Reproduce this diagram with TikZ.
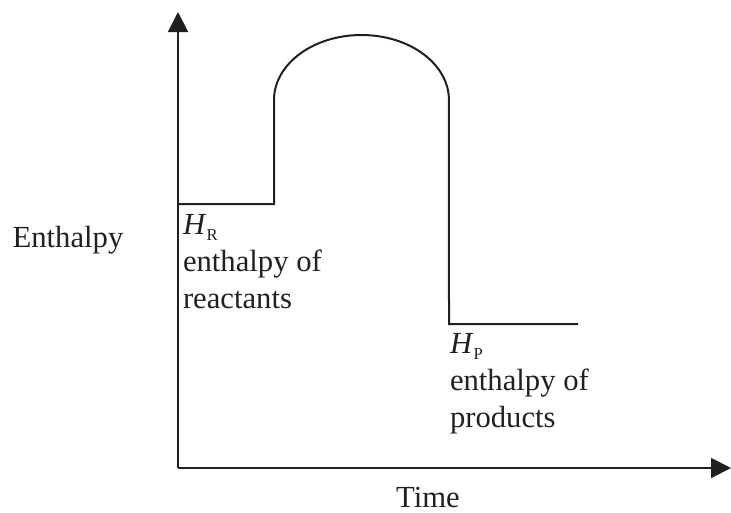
\documentclass[tikz,border=0pt]{standalone}
\usepackage{fontspec}
\setmainfont{Liberation Serif}
\usetikzlibrary{positioning,arrows.meta}
\definecolor{ink}{HTML}{231F20}
\newcommand{\lowsub}[1]{\raisebox{-4.5pt}{\fontsize{12.5}{12.5}\selectfont #1}}

\begin{document}
\begin{tikzpicture}[x=0.75pt, y=0.75pt, line width=1.5pt, draw=ink, text=ink,
	every node/.style={font=\fontsize{23}{27.75}\selectfont, inner sep=0pt},
	axis/.style={-{Triangle[length=15pt, width=15pt]}},
	level/.style={align=left, anchor=north west}]
	\useasboundingbox (0,0) rectangle (731,512);
	% axes
	\coordinate (O) at (178,44);
	\coordinate (Ytip) at (178,500);
	\coordinate (Xtip) at (731,44);
	\draw[axis] (O) -- (Ytip);
	\draw[axis] (O) -- (Xtip);
	% enthalpy profile
	\coordinate (R0) at (178,308);
	\coordinate (R1) at (274,308);
	\coordinate (T1) at (274,412);
	\coordinate (P0) at (449,188);
	\coordinate (P1) at (578,188);
	\draw (R0) -- (R1) -- (T1) arc[start angle=180, end angle=0, x radius=65.6pt, y radius=48.75pt] -- (P0) -- (P1);
	% labels
	\node[level] (HR) at ([shift={(4,-9)}]R0) {\textit{H}\lowsub{R}\\enthalpy of\\reactants};
	\node[level] (HP) at ([shift={(0,-8)}]P0) {\textit{H}\lowsub{P}\\enthalpy of\\products};
	\node (Enthalpy) at (68,272) {Enthalpy};
	\node (Time) at (428,15) {Time};
\end{tikzpicture}
\end{document}
